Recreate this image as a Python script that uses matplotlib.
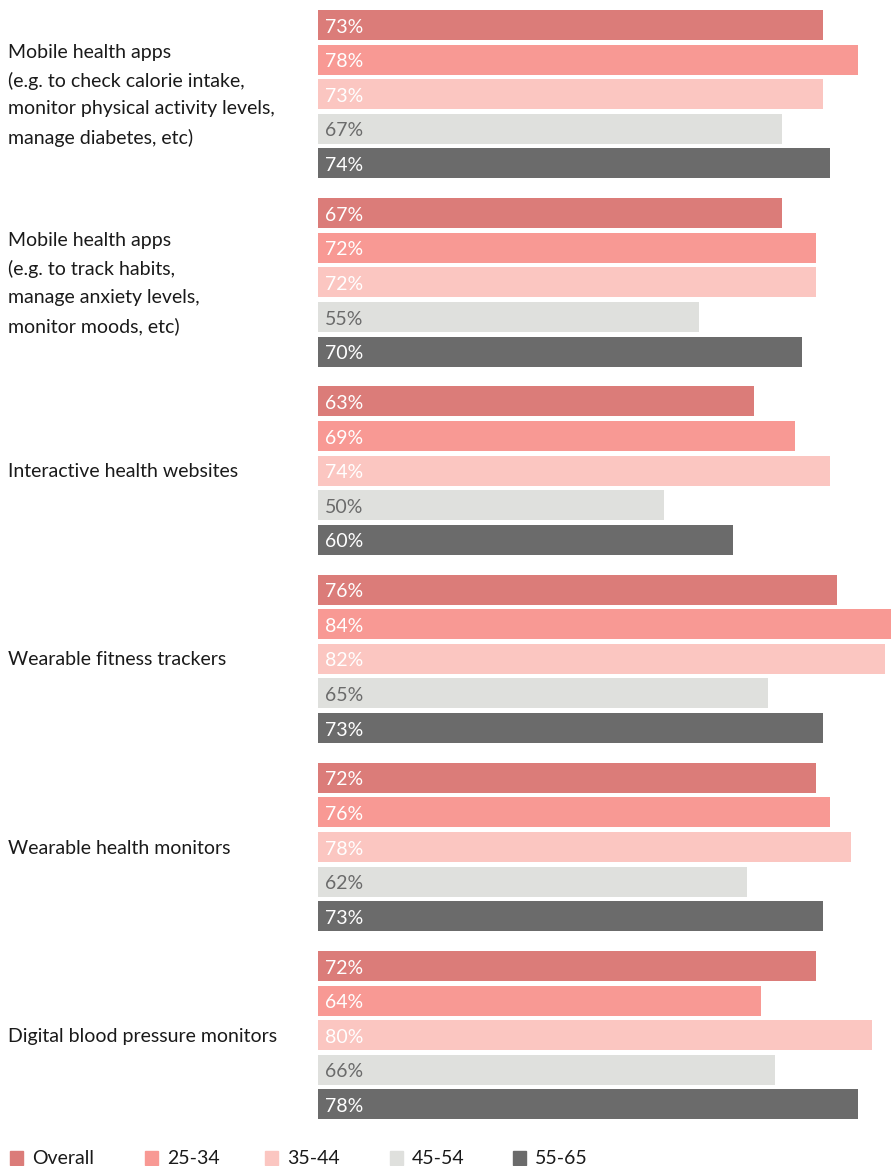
import matplotlib
matplotlib.use("Agg")
import matplotlib.pyplot as plt
from matplotlib.transforms import blended_transform_factory
from matplotlib.patches import Rectangle

plt.rcParams['font.family'] = ['Lato', 'DejaVu Sans']

categories = [
    "Mobile health apps\n(e.g. to check calorie intake,\nmonitor physical activity levels,\nmanage diabetes, etc)",
    "Mobile health apps\n(e.g. to track habits,\nmanage anxiety levels,\nmonitor moods, etc)",
    "Interactive health websites",
    "Wearable fitness trackers",
    "Wearable health monitors",
    "Digital blood pressure monitors",
]
series = ["Overall", "25-34", "35-44", "45-54", "55-65"]

# printed labels (%)
overall_lbl = [73, 67, 63, 76, 72, 72]
age_25_34_lbl = [78, 72, 69, 84, 76, 64]
age_35_44_lbl = [73, 72, 74, 82, 78, 80]
age_45_54_lbl = [67, 55, 50, 65, 62, 66]
age_55_65_lbl = [74, 70, 60, 73, 73, 78]

# bar lengths as drawn (%)
overall = [73, 67, 63, 75, 72, 72]
age_25_34 = [78, 72, 69, 84, 74, 64]
age_35_44 = [73, 72, 74, 82, 77, 80]
age_45_54 = [67, 55, 50, 65, 62, 66]
age_55_65 = [74, 70, 60, 73, 73, 78]

values = [overall, age_25_34, age_35_44, age_45_54, age_55_65]
labels = [overall_lbl, age_25_34_lbl, age_35_44_lbl, age_45_54_lbl, age_55_65_lbl]

colors = ["#DB7C79", "#F89994", "#FBC6C1", "#DFE0DD", "#6B6B6B"]
text_colors = ["white", "white", "white", "#6B6B6B", "white"]

W, H = 891, 1166
fig = plt.figure(figsize=(W / 100, H / 100), dpi=100)
ax = fig.add_axes([318 / W, 0, 1 - 318 / W, 1])
px_per_pct = 6.92
ax.set_xlim(0, (W - 318) / px_per_pct)
pitch = 34.6
group_gap = 188.2 / pitch
ax.set_ylim(H / pitch, 0)
ax.axis("off")

bar_h = 30.0 / pitch
first_center = 25.0 / pitch
for j, (vals, lbls, c, tc) in enumerate(zip(values, labels, colors, text_colors)):
    ys = [first_center + i * group_gap + j for i in range(len(categories))]
    ax.barh(ys, vals, height=bar_h, color=c, left=0)
    for y, lv in zip(ys, lbls):
        ax.text(1.0, y + 0.06, f"{lv}%", color=tc, va="center", ha="left", fontsize=14)

trans = blended_transform_factory(fig.transFigure, ax.transData)
for i, cat in enumerate(categories):
    yc = first_center + i * group_gap + 2
    fig.text(8 / W, yc + 0.03, cat, transform=trans, va="center", ha="left",
             fontsize=14, color="#1a1a1a", linespacing=1.74)

leg_x = [10, 145, 265, 390, 513]
for x, s, c in zip(leg_x, series, colors):
    fig.patches.append(Rectangle((x / W, (H - 1165) / H), 13 / W, 14 / H,
                                 transform=fig.transFigure, color=c))
    fig.text((x + 22) / W, (H - 1158) / H, s, va="center", ha="left",
             fontsize=14, color="#1a1a1a")

fig.savefig("out.png", dpi=100)
